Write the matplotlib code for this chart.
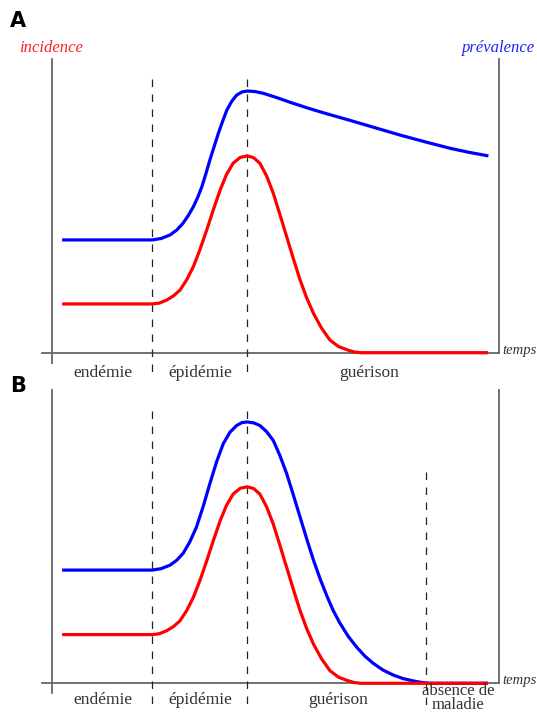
import matplotlib
matplotlib.use("Agg")
import matplotlib.pyplot as plt

# time axis 0..100, level axis 0..100
t_inc = [2.2, 22.4, 24.0, 25.6, 27.1, 28.6, 30.1, 31.6, 33.1, 34.6, 36.1,
         37.6, 39.0, 40.5, 42.1, 43.7, 45.1, 46.5, 48.0, 49.5, 51.0, 52.5,
         54.0, 55.5, 57.0, 58.5, 60.3, 62.2, 64.1, 66.0, 67.5, 69.0, 97.6]
inc = [16.6, 16.6, 16.9, 17.9, 19.3, 21.3, 24.8, 29.3, 35.2, 41.8, 48.8,
       55.4, 60.6, 64.5, 66.5, 67.0, 66.4, 64.5, 60.2, 54.3, 47.0, 39.5,
       32.0, 24.8, 18.6, 13.4, 8.4, 4.3, 2.1, 1.0, 0.3, 0.0, 0.0]

t_prevA = [2.2, 22.4, 24.4, 26.4, 27.9, 29.3, 30.5, 31.6, 32.6, 33.5, 34.4,
           35.3, 36.3, 37.2, 38.2, 39.1, 40.2, 41.3, 42.5, 43.7, 45.5, 47.3,
           50.2, 53.2, 57.0, 60.7, 66.7, 72.3, 77.9, 83.5, 89.1, 93.4, 97.7]
prevA = [38.4, 38.4, 38.9, 40.1, 41.8, 44.1, 46.8, 49.7, 53.0, 56.5, 60.9,
         65.6, 70.4, 74.7, 79.0, 82.6, 85.6, 87.7, 88.8, 89.1, 88.9, 88.3,
         86.9, 85.3, 83.4, 81.7, 79.1, 76.6, 74.1, 71.8, 69.6, 68.2, 67.0]

t_prevB = [2.2, 22.4, 24.4, 26.4, 27.9, 29.3, 30.8, 32.3, 33.8, 35.3, 36.8,
           38.3, 39.8, 41.3, 42.5, 43.7, 45.1, 46.5, 48.0, 49.5, 51.0, 52.5,
           54.0, 55.5, 57.0, 58.5, 60.0, 61.5, 62.9, 64.4, 66.3, 68.2, 70.0,
           71.9, 74.1, 76.4, 78.6, 80.9, 82.7, 84.6, 97.6]
prevB = [38.6, 38.6, 39.1, 40.3, 42.0, 44.3, 48.2, 53.3, 60.3, 68.1, 75.5,
         81.7, 85.6, 87.9, 88.9, 89.1, 88.8, 87.9, 85.8, 82.8, 77.6, 71.5,
         64.2, 56.7, 49.2, 42.0, 35.6, 29.8, 24.9, 20.6, 16.0, 12.3, 9.3,
         6.8, 4.5, 2.8, 1.6, 0.8, 0.3, 0.0, 0.0]

phases_A = ["endémie", "épidémie", "guérison"]
phases_B = ["endémie", "épidémie", "guérison", "absence de\nmaladie"]

W, H = 537, 713
fig = plt.figure(figsize=(W / 100, H / 100), dpi=100)

serif = ["Liberation Serif", "DejaVu Serif"]
axis_col = "#666666"
txt_col = "#333333"


def make_ax(top_px, bottom_px):
    ax = fig.add_axes([52.3 / W, 1 - bottom_px / H, 446.4 / W, (bottom_px - top_px) / H])
    ax.set_xlim(0, 100)
    ax.set_ylim(0, 100)
    ax.axis("off")
    # axes frame (left axis runs a bit below, x axis a bit left)
    ax.plot([0, 0], [100, -3.4], color=axis_col, lw=1.3, clip_on=False)
    ax.plot([-2.2, 100], [0, 0], color=axis_col, lw=1.3, clip_on=False)
    ax.plot([100, 100], [100, 0], color=axis_col, lw=1.3, clip_on=False)
    ax.text(100.9, 0.8, "temps", family=serif, style="italic", fontsize=10.5,
            color=txt_col, ha="left", va="center", clip_on=False)
    return ax


def dashed(ax, t, top, bottom=-9):
    ax.plot([t, t], [top, bottom], color="#222222", lw=0.9,
            linestyle=(0, (6, 6)), clip_on=False)


def curve(ax, t, v, col):
    ax.plot(t, v, color=col, lw=2.3, solid_joinstyle="round",
            solid_capstyle="butt", clip_on=False)


# ---------- panel A ----------
axA = make_ax(59, 352.7)
dashed(axA, 22.4, 93.2)
dashed(axA, 43.7, 93.2)
curve(axA, t_prevA, prevA, "#0000ff")
curve(axA, t_inc, inc, "#ff0000")
for lab, x in zip(phases_A, [11.4, 33.2, 70.9]):
    axA.text(x, -6.9, lab, family=serif, fontsize=12.5, color=txt_col,
             ha="center", va="center", clip_on=False)
axA.text(-0.3, 103.7, "incidence", family=serif, style="italic", fontsize=12,
         color="#ff2020", ha="center", va="center", clip_on=False)
axA.text(100, 103.7, "prévalence", family=serif, style="italic", fontsize=12,
         color="#2020ff", ha="center", va="center", clip_on=False)

# ---------- panel B ----------
axB = make_ax(390, 683.3)
dashed(axB, 22.4, 92.7)
dashed(axB, 43.7, 92.7)
dashed(axB, 83.8, 72.0)
curve(axB, t_prevB, prevB, "#0000ff")
curve(axB, t_inc, inc, "#ff0000")
for lab, x in zip(phases_B[:3], [11.4, 33.2, 64.0]):
    axB.text(x, -5.7, lab, family=serif, fontsize=12.5, color=txt_col,
             ha="center", va="center", clip_on=False)
axB.text(90.9, -5.0, phases_B[3], family=serif, fontsize=12, color=txt_col,
         ha="center", va="center", linespacing=0.8, clip_on=False)

fig.text(18 / W, 1 - 21 / H, "A", fontsize=15, fontweight="bold",
         ha="center", va="center")
fig.text(18 / W, 1 - 386 / H, "B", fontsize=15, fontweight="bold",
         ha="center", va="center")

fig.savefig("out.png", dpi=100)
